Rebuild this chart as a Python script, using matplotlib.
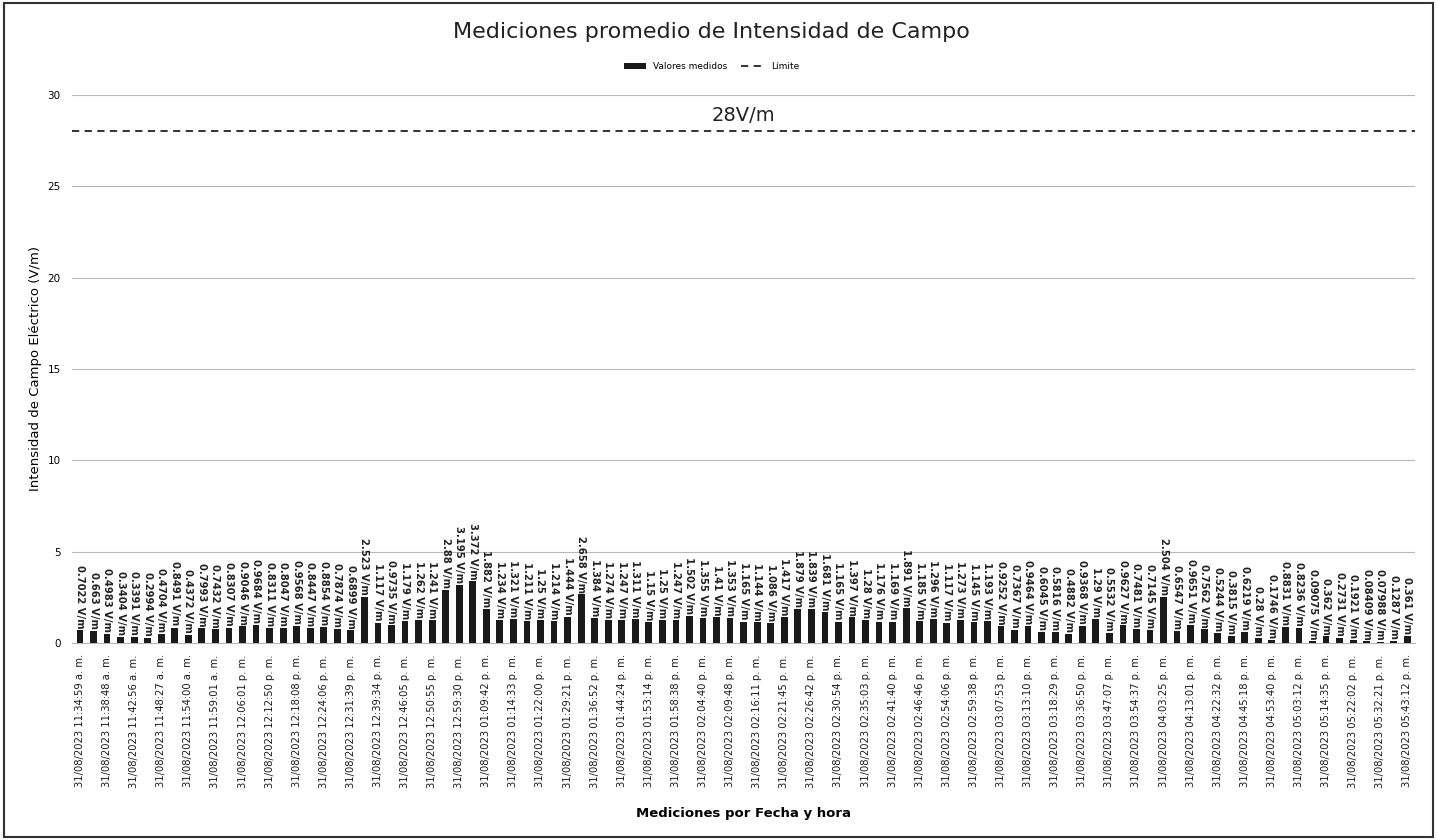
import numpy as np
import matplotlib.pyplot as plt
from matplotlib.patches import Rectangle, Patch
from matplotlib.lines import Line2D

# valores medidos (V/m), uno por medicion
values = [0.7022, 0.663, 0.4983, 0.3404, 0.3391, 0.2994, 0.4704, 0.8491, 0.4372, 0.7993,
          0.7432, 0.8307, 0.9046, 0.9684, 0.8311, 0.8047, 0.9568, 0.8447, 0.8854, 0.7874,
          0.6899, 2.523, 1.117, 0.9735, 1.179, 1.262, 1.241, 2.88, 3.195, 3.372,
          1.882, 1.234, 1.321, 1.211, 1.25, 1.214, 1.444, 2.658, 1.384, 1.274,
          1.247, 1.311, 1.15, 1.25, 1.247, 1.502, 1.355, 1.41, 1.353, 1.165,
          1.144, 1.086, 1.417, 1.879, 1.839, 1.681, 1.165, 1.397, 1.28, 1.176,
          1.169, 1.891, 1.185, 1.296, 1.117, 1.273, 1.145, 1.193, 0.9252, 0.7367,
          0.9464, 0.6045, 0.5816, 0.4882, 0.9368, 1.29, 0.5532, 0.9627, 0.7481, 0.7145,
          2.504, 0.6547, 0.9651, 0.7562, 0.5244, 0.3815, 0.6219, 0.28, 0.1746, 0.8831,
          0.8236, 0.09075, 0.362, 0.2731, 0.1921, 0.08409, 0.07988, 0.1287, 0.361]

# etiquetas del eje x (una cada dos barras)
tick_times = ["11:34:59 a. m.", "11:38:48 a. m.", "11:42:56 a. m.", "11:48:27 a. m.",
              "11:54:00 a. m.", "11:59:01 a. m.", "12:06:01 p. m.", "12:12:50 p. m.",
              "12:18:08 p. m.", "12:24:06 p. m.", "12:31:39 p. m.", "12:39:34 p. m.",
              "12:46:05 p. m.", "12:50:55 p. m.", "12:59:30 p. m.", "01:09:42 p. m.",
              "01:14:33 p. m.", "01:22:00 p. m.", "01:29:21 p. m.", "01:36:52 p. m.",
              "01:44:24 p. m.", "01:53:14 p. m.", "01:58:38 p. m.", "02:04:40 p. m.",
              "02:09:48 p. m.", "02:16:11 p. m.", "02:21:45 p. m.", "02:26:42 p. m.",
              "02:30:54 p. m.", "02:35:03 p. m.", "02:41:40 p. m.", "02:46:46 p. m.",
              "02:54:06 p. m.", "02:59:38 p. m.", "03:07:53 p. m.", "03:13:10 p. m.",
              "03:18:29 p. m.", "03:36:50 p. m.", "03:47:07 p. m.", "03:54:37 p. m.",
              "04:03:25 p. m.", "04:13:01 p. m.", "04:22:32 p. m.", "04:45:18 p. m.",
              "04:53:40 p. m.", "05:03:12 p. m.", "05:14:35 p. m.", "05:22:02 p. m.",
              "05:32:21 p. m.", "05:43:12 p. m."]
tick_date = "31/08/2023"
limit = 28
y_ticks = [0, 5, 10, 15, 20, 25, 30]

fig = plt.figure(figsize=(14.37, 8.4), dpi=100)
ax = fig.add_axes([0.050, 0.2345, 0.935, 0.6525])

x = np.arange(len(values))
ax.bar(x, values, width=0.5, color='#1a1a1a', zorder=3)
for xi, v in zip(x, values):
    ax.text(xi, v + 0.1, f"{v:g} V/m", rotation=-90, ha='center', va='bottom',
            fontsize=7.2, fontweight='bold', color='#222222', zorder=4)

ax.axhline(limit, color='#222222', linestyle=(0, (4, 3)), linewidth=1.3, zorder=3)
ax.text(len(values) / 2 - 0.5, limit + 0.9, f"{limit}V/m", ha='center', va='center',
        fontsize=14, color='#222222')

ax.set_xlim(-0.6, len(values) - 0.4)
ax.set_ylim(0, 30)
ax.set_yticks(y_ticks)
ax.set_yticklabels([str(t) for t in y_ticks], fontsize=7.5)
ax.yaxis.grid(True, color='#b8b8b8', linewidth=0.8, zorder=0)
ax.set_xticks(x[::2])
ax.set_xticklabels([f"{tick_date} {t}" for t in tick_times], rotation=90,
                   fontsize=7.2, color='#1a1a1a')
ax.tick_params(axis='both', length=0, pad=8)
for s in ['top', 'right', 'left']:
    ax.spines[s].set_visible(False)
ax.spines['bottom'].set_color('#b8b8b8')

ax.set_ylabel("Intensidad de Campo Eléctrico (V/m)", fontsize=9.5, labelpad=4)
ax.set_xlabel("Mediciones por Fecha y hora", fontsize=9.5, fontweight='bold', labelpad=14)

fig.text(0.495, 0.962, "Mediciones promedio de Intensidad de Campo", ha='center',
         va='center', fontsize=16, color='#222222')

handles = [Patch(facecolor='#1a1a1a'),
           Line2D([0], [0], color='#222222', linestyle=(0, (4, 3)), linewidth=1.3)]
fig.legend(handles, ["Valores medidos", "Límite"], loc='center', ncol=2,
           bbox_to_anchor=(0.495, 0.921), frameon=False, fontsize=6.5,
           handlelength=2.5, columnspacing=1.5)

fig.patches.append(Rectangle((0.003, 0.004), 0.994, 0.992, transform=fig.transFigure,
                             fill=False, edgecolor='#333333', linewidth=1.5))

fig.savefig('out.png', dpi=100)
